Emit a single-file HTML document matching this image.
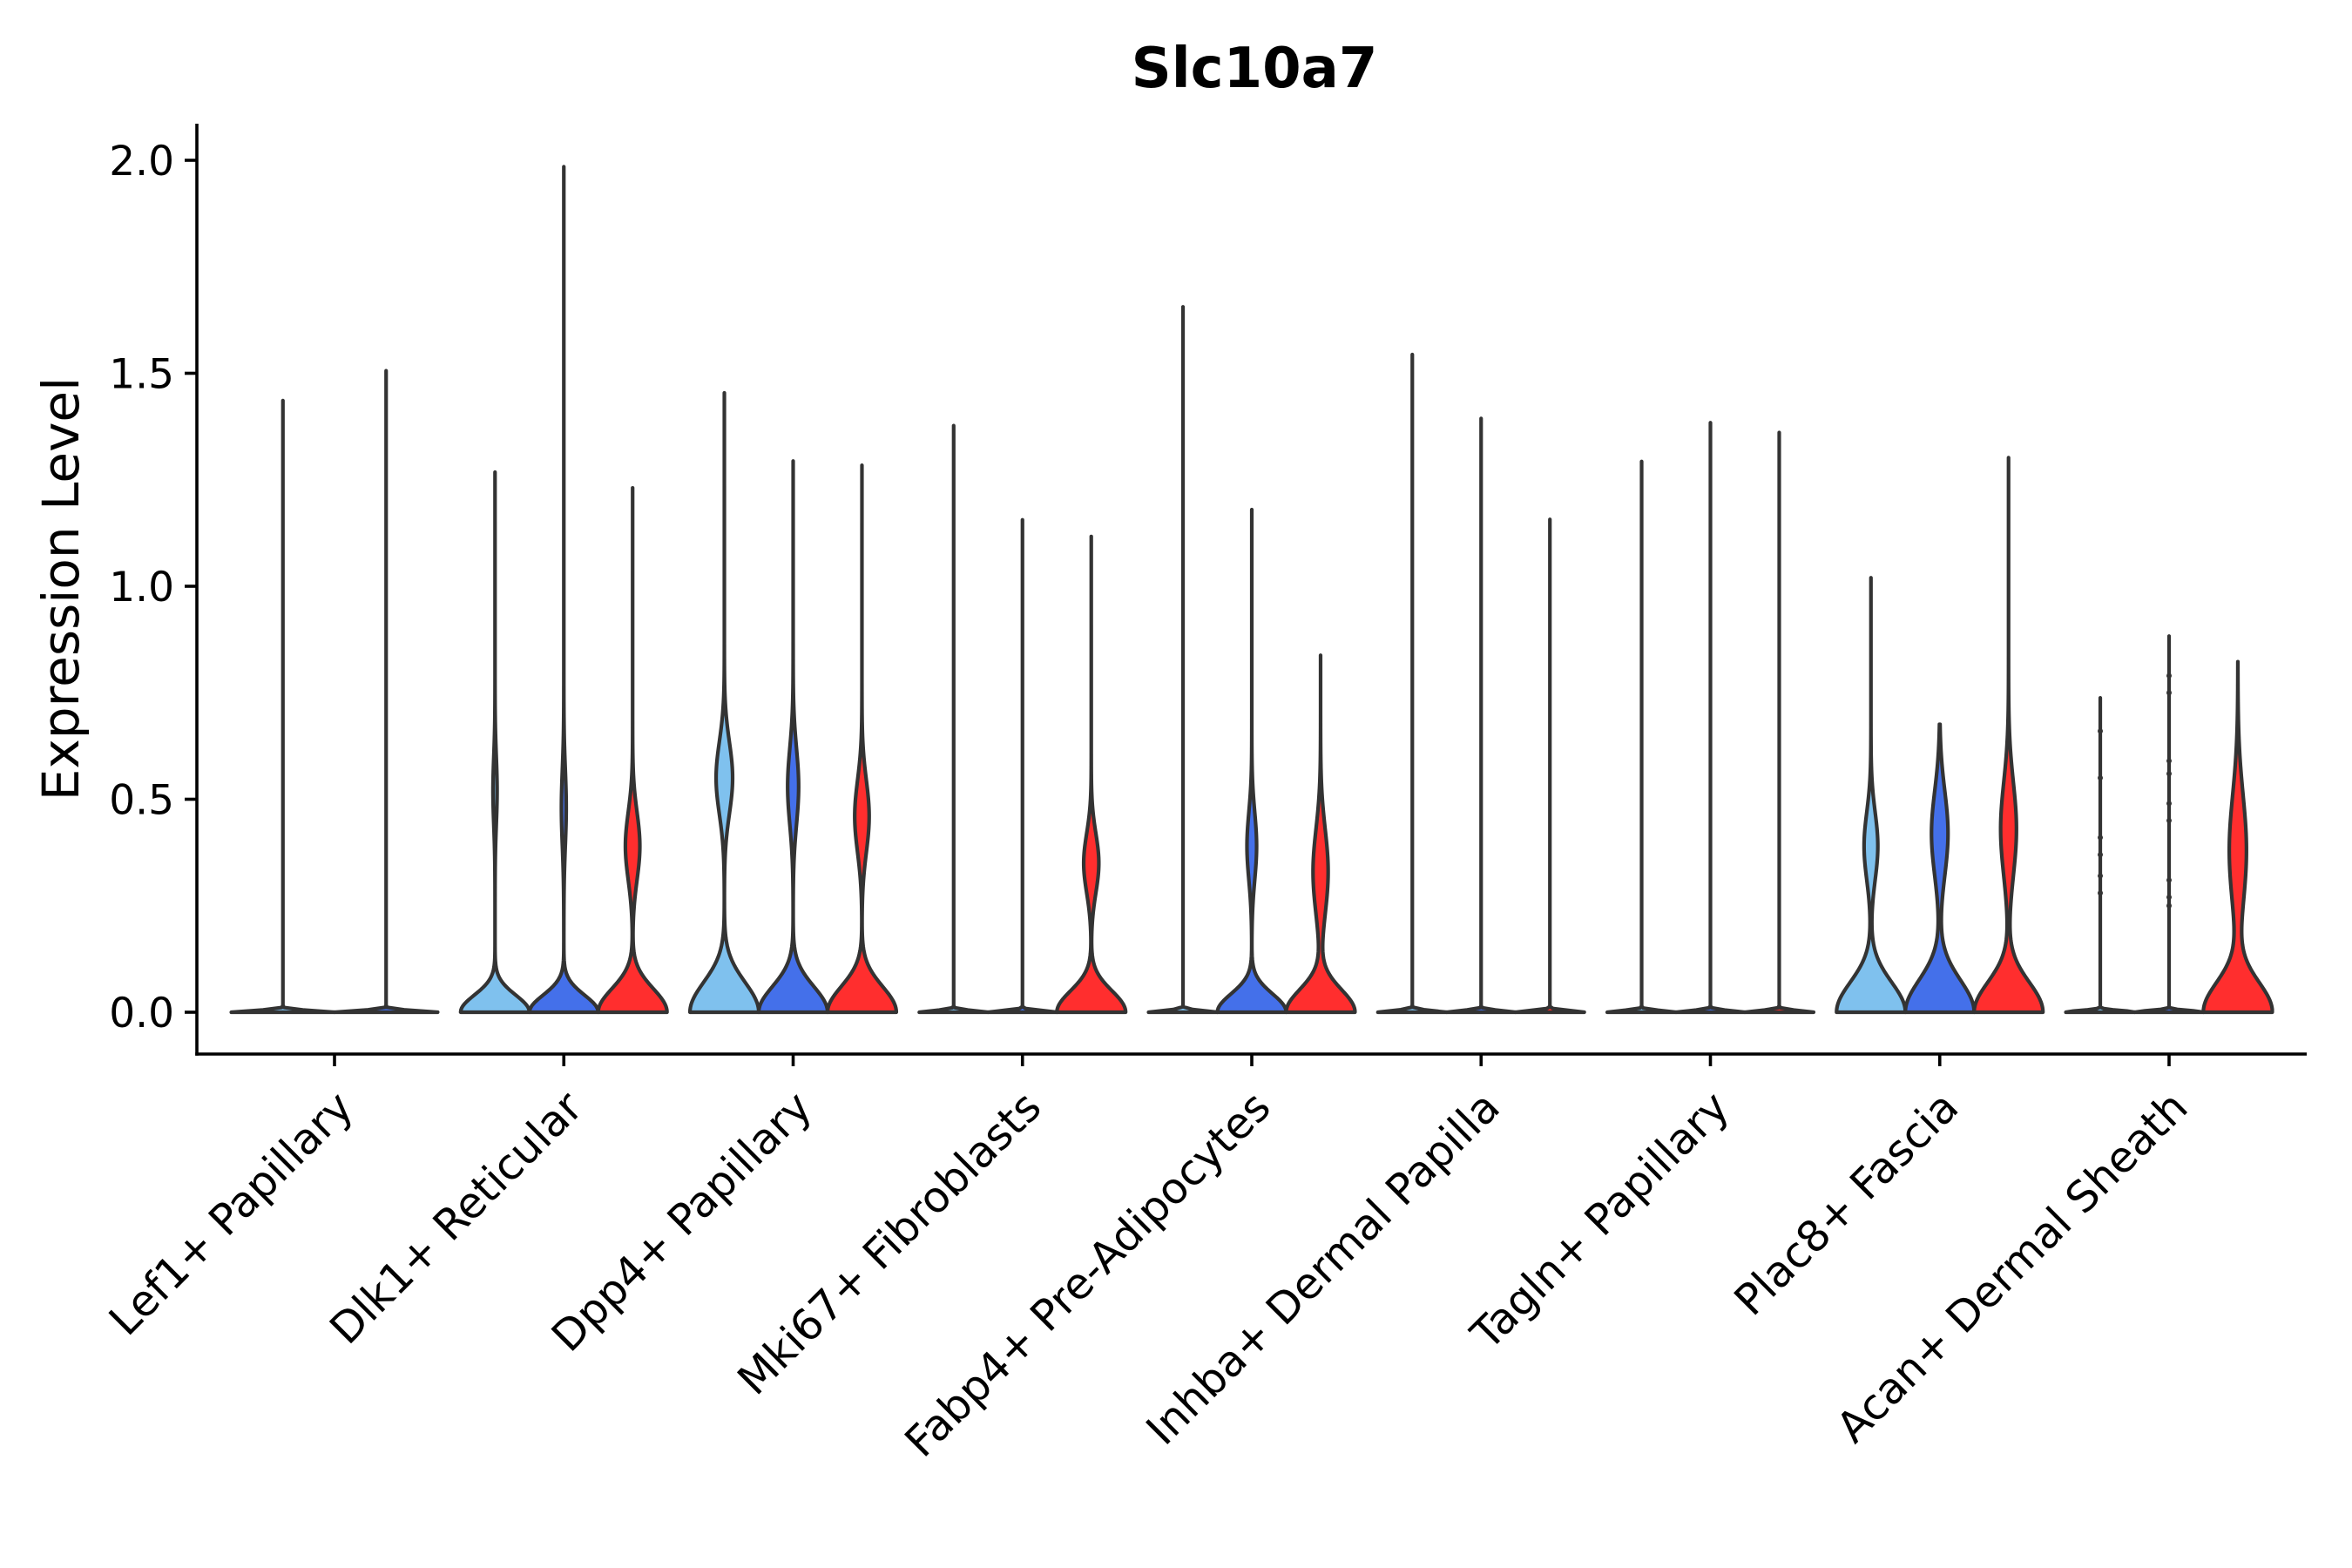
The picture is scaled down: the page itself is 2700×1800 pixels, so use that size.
<!DOCTYPE html>
<html><head><meta charset="utf-8"><title>Slc10a7 violin plot</title>
<style>
html,body{margin:0;padding:0;background:#fff;}
svg{display:block;}
text{font-family:"DejaVu Sans","Liberation Sans",sans-serif;fill:#000;}
</style></head>
<body>
<svg id="chart" xmlns="http://www.w3.org/2000/svg" width="2700" height="1800" viewBox="0 0 2700 1800">
  <rect x="0" y="0" width="2700" height="1800" fill="#fff"/>
  <text x="1440" y="100" font-size="64" font-weight="bold" text-anchor="middle">Slc10a7</text>
  <text transform="translate(90,676) rotate(-90)" font-size="58" text-anchor="middle">Expression Level</text>
  <g id="violins"></g>
  <g id="axes"></g>
</svg>
<script>
// ---- data ----
const categories = ["Lef1+ Papillary","Dlk1+ Reticular","Dpp4+ Papillary","Mki67+ Fibroblasts","Fabp4+ Pre-Adipocytes","Inhba+ Dermal Papilla","Tagln+ Papillary","Plac8+ Fascia","Acan+ Dermal Sheath"];
const levelColors = ["#7fc1ee","#4470ea","#ff2e2e"];
const levelCounts = [2,3,3,3,3,3,3,3,3];
// max value of each violin
const maxValues = [[1.436,1.506],[1.268,1.985,1.231],[1.454,1.294,1.284],[1.377,1.156,1.117],[1.656,1.180,0.838],[1.544,1.394,1.157],[1.293,1.384,1.361],[1.020,0.676,1.302],[0.738,0.883,0.823]];
// spread of the zero-mass bump (value units)
const baseSigma = [[0.004,0.004],[0.04,0.04,0.055],[0.07,0.06,0.06],[0.004,0.004,0.05],[0.004,0.043,0.053],[0.004,0.004,0.004],[0.004,0.004,0.004],[0.07,0.075,0.07],[0.004,0.004,0.07]];
// secondary (expressed) mode: center, relative width, spread
const bumpMu = [[0,0],[0.52,0.48,0.39],[0.55,0.53,0.46],[0,0,0.35],[0,0.39,0.33],[0,0,0],[0,0,0],[0.39,0.42,0.43],[0,0,0.38]];
const bumpAmp = [[0,0],[0.06,0.07,0.21],[0.24,0.16,0.21],[0,0,0.22],[0,0.14,0.22],[0,0,0],[0,0,0],[0.2,0.24,0.23],[0,0,0.25]];
const bumpSigma = [[0.1,0.1],[0.08,0.09,0.08],[0.085,0.09,0.085],[0.1,0.1,0.07],[0.1,0.08,0.1],[0.1,0.1,0.1],[0.1,0.1,0.1],[0.08,0.1,0.11],[0.1,0.1,0.13]];
// isolated points on Acan+ violins
const acanPoints0 = [0.66,0.55,0.41,0.37,0.32,0.28];
const acanPoints1 = [0.79,0.75,0.59,0.56,0.49,0.45,0.31,0.27,0.25];
const yTicks = [0.0,0.5,1.0,1.5,2.0];
const yTickLabels = ["0.0","0.5","1.0","1.5","2.0"];

// ---- scales ----
const NS = "http://www.w3.org/2000/svg";
const x0 = 384, step = 263.25, groupW = 0.9*step;
function xScale(i){ return x0 + i*step; }
function yScale(v){ return 1162 - v*489; }
const axL = 226, axR = 2648, axB = 1210, axT = 142;

const vg = document.getElementById('violins');
categories.forEach((cat, gi) => {
  const n = levelCounts[gi];
  const w = groupW / n;
  for (let li = 0; li < n; li++) {
    const cx = xScale(gi) - groupW/2 + w*(li+0.5);
    const hwMax = w/2;
    const mx = maxValues[gi][li];
    const s0 = baseSigma[gi][li], mu = bumpMu[gi][li], a1 = bumpAmp[gi][li], s1 = bumpSigma[gi][li];
    const N = 260;
    const right = [], left = [];
    for (let k = 0; k <= N; k++) {
      const v = mx * k / N;
      let f = Math.exp(-0.5*(v/s0)*(v/s0)) + a1*Math.exp(-0.5*((v-mu)/s1)*((v-mu)/s1));
      if (f > 1) f = 1;
      const hw = hwMax * f;
      const y = yScale(v);
      right.push((cx+hw).toFixed(2)+','+y.toFixed(2));
      left.unshift((cx-hw).toFixed(2)+','+y.toFixed(2));
    }
    const p = document.createElementNS(NS,'path');
    p.setAttribute('d','M'+right.join(' L')+' L'+left.join(' L')+' Z');
    p.setAttribute('fill', levelColors[li]);
    p.setAttribute('stroke','#333');
    p.setAttribute('stroke-width','4.2');
    p.setAttribute('stroke-linejoin','round');
    
    
    vg.appendChild(p);
  }
});
// Acan points
[acanPoints0, acanPoints1].forEach((pts, li) => {
  const gi = 8, n = 3, w = groupW/n;
  const cx = xScale(gi) - groupW/2 + w*(li+0.5);
  pts.forEach(v => {
    const c = document.createElementNS(NS,'circle');
    c.setAttribute('cx', cx);
    c.setAttribute('cy', yScale(v));
    c.setAttribute('r', 3);
    c.setAttribute('fill', '#333');
    
    
    vg.appendChild(c);
  });
});

// ---- axes ----
const ag = document.getElementById('axes');
function line(x1,y1,x2,y2,name){
  const l = document.createElementNS(NS,'line');
  l.setAttribute('x1',x1); l.setAttribute('y1',y1); l.setAttribute('x2',x2); l.setAttribute('y2',y2);
  l.setAttribute('stroke','#000'); l.setAttribute('stroke-width','3.6');
  
  
  ag.appendChild(l);
}
line(axL, axT, axL, axB+1.8, 'y-axis-line');
line(axL-1.8, axB, axR, axB, 'x-axis-line');
yTicks.forEach((v, i) => {
  const y = yScale(v);
  line(axL-14, y, axL, y, 'y-tick');
  const t = document.createElementNS(NS,'text');
  t.setAttribute('x', 200); t.setAttribute('y', y + 17);
  t.setAttribute('font-size', '47'); t.setAttribute('text-anchor','end');
  t.textContent = yTickLabels[i];
  
  
  ag.appendChild(t);
});
categories.forEach((cat, i) => {
  const x = xScale(i);
  line(x, axB, x, axB+14, 'x-tick');
  const t = document.createElementNS(NS,'text');
  t.setAttribute('transform', 'translate(' + (x+24) + ',' + (axB+64) + ') rotate(-45)');
  t.setAttribute('font-size', '49'); t.setAttribute('text-anchor','end');
  t.textContent = cat;
  
  
  ag.appendChild(t);
});
</script>
</body></html>
